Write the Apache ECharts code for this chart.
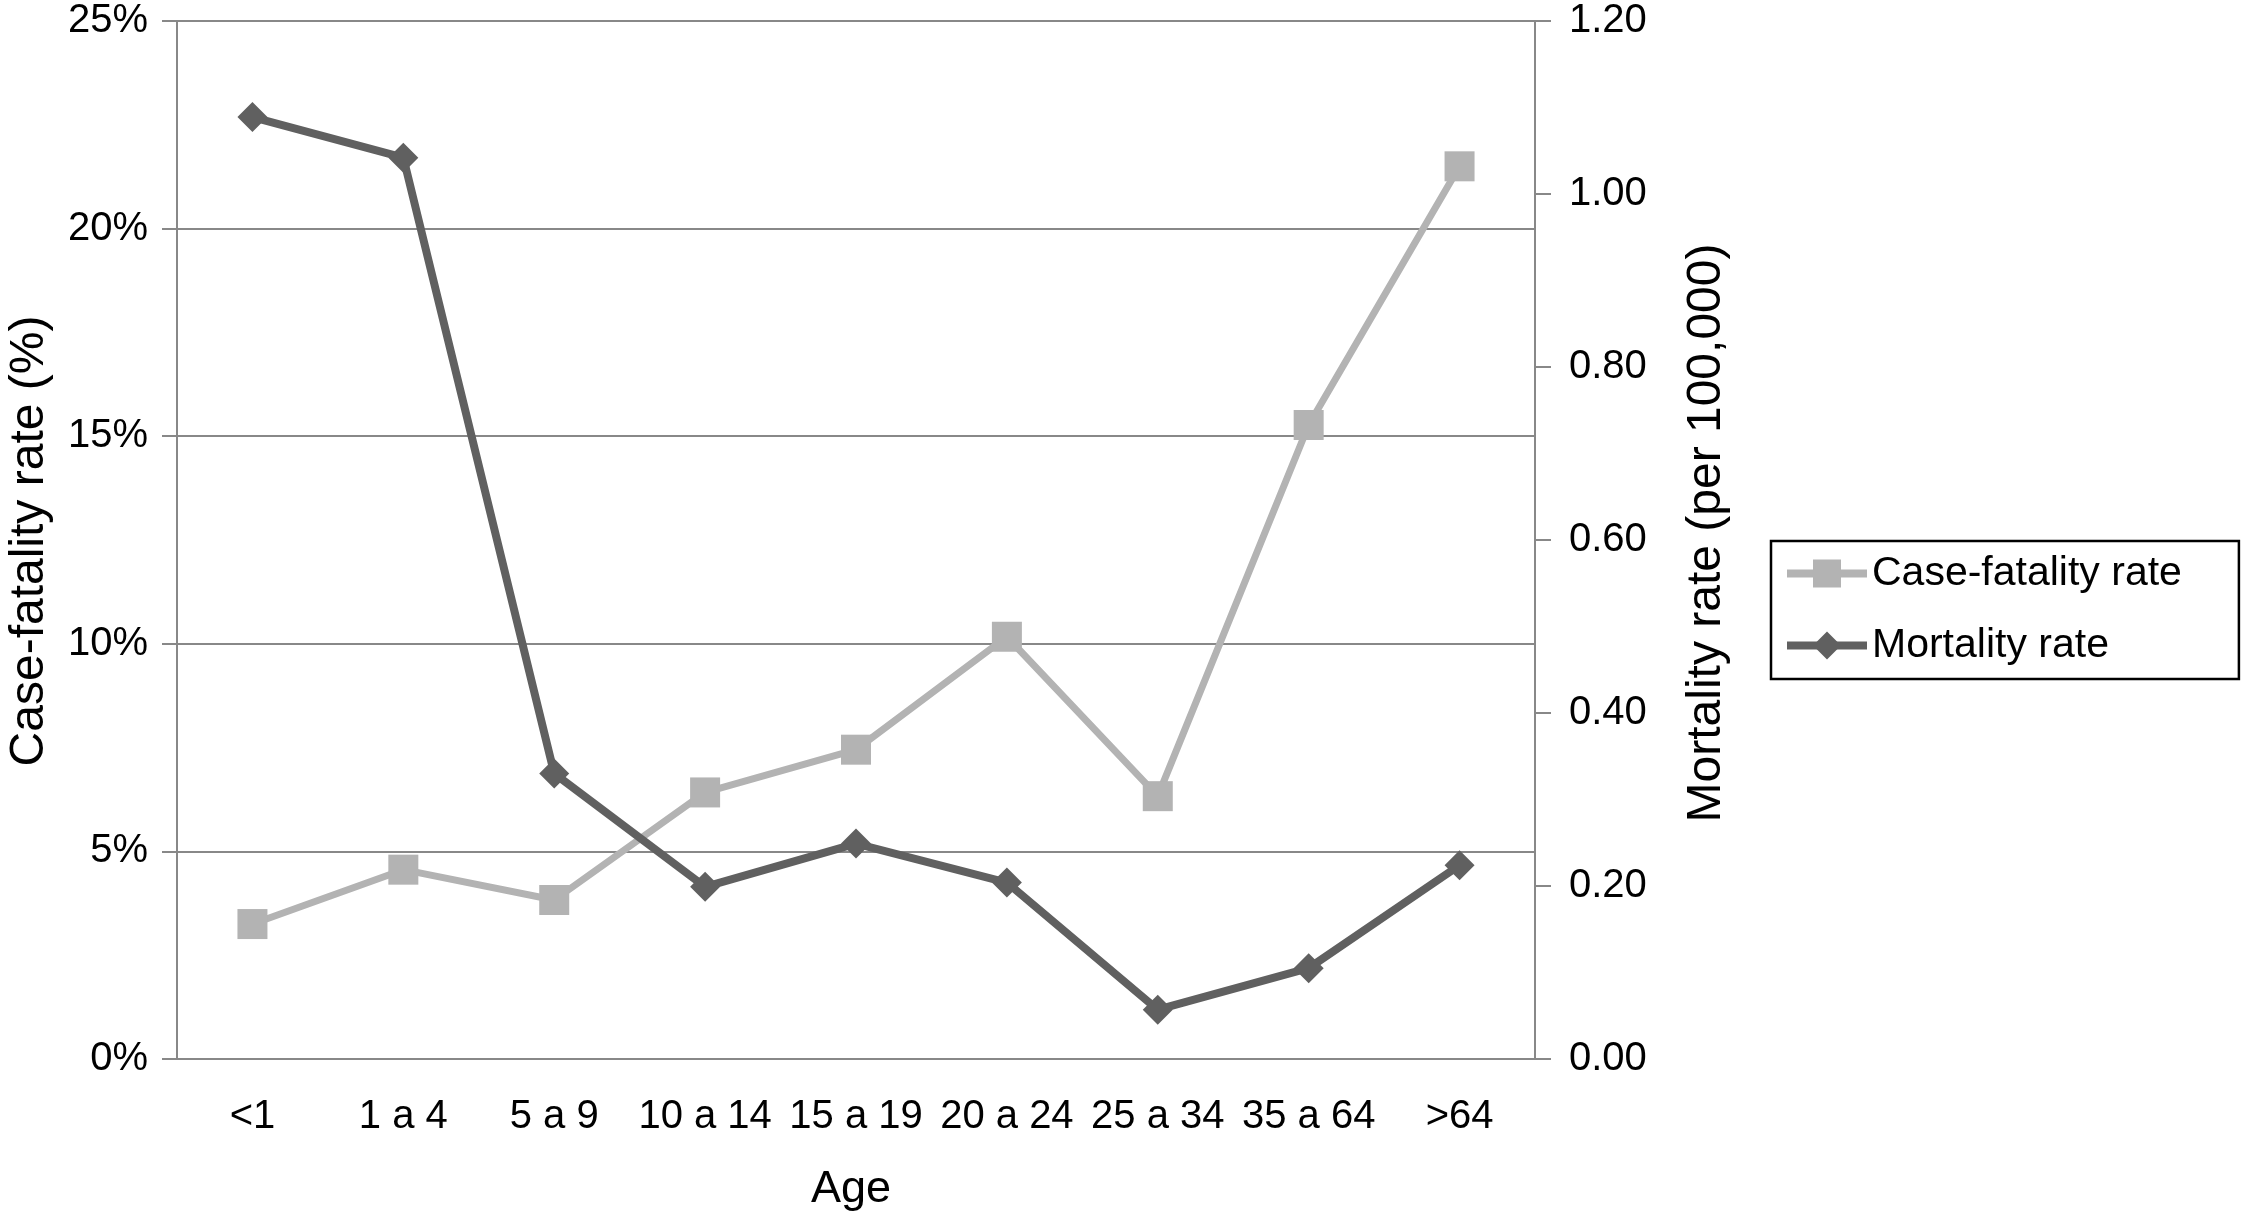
<!DOCTYPE html>
<html>
<head>
<meta charset="utf-8">
<script src="https://cdn.jsdelivr.net/npm/echarts@6/dist/echarts.min.js"></script>
<style>
html,body{margin:0;padding:0;background:#fff;}
#chart{width:2243px;height:1219px;}
</style>
</head>
<body>
<div id="chart"></div>
<script>
const categories = ['<1', '1 a 4', '5 a 9', '10 a 14', '15 a 19', '20 a 24', '25 a 34', '35 a 64', '>64'];
const caseFatality = [3.25, 4.56, 3.83, 6.42, 7.45, 10.17, 6.33, 15.27, 21.5];
const mortality = [1.089, 1.042, 0.330, 0.199, 0.249, 0.204, 0.057, 0.105, 0.224];
const leftTicks = [0, 5, 10, 15, 20, 25];
const rightTicks = [0, 0.2, 0.4, 0.6, 0.8, 1.0, 1.2];

const FONT = '"Liberation Sans", Arial, Helvetica, sans-serif';
const chart = echarts.init(document.getElementById('chart'), null, {renderer: 'canvas'});
chart.setOption({
  backgroundColor: '#ffffff',
  animation: false,
  textStyle: {fontFamily: FONT, color: '#000'},
  grid: {left: 177, right: 708, top: 21, bottom: 160, containLabel: false},
  legend: {
    left: 1771, top: 541,
    orient: 'vertical',
    padding: [12, 57, 13, 12],
    borderColor: '#000', borderWidth: 2.5,
    itemWidth: 80, itemHeight: 35, itemGap: 31,
    lineStyle: {width: 8},
    textStyle: {fontSize: 41, fontFamily: FONT, color: '#000', lineHeight: 41},
    data: ['Case-fatality rate', 'Mortality rate']
  },
  xAxis: {
    type: 'category',
    data: categories,
    boundaryGap: true,
    axisLine: {show: true, lineStyle: {color: '#888', width: 2}},
    axisTick: {show: false},
    axisLabel: {fontSize: 40, color: '#000', margin: 38, fontFamily: FONT, interval: 0},
    splitLine: {show: false}
  },
  yAxis: [
    {
      type: 'value', min: leftTicks[0], max: leftTicks[leftTicks.length - 1], interval: 5,
      position: 'left',
      axisLine: {show: true, lineStyle: {color: '#888', width: 2}},
      axisTick: {show: true, length: 15, lineStyle: {color: '#888', width: 2}},
      axisLabel: {fontSize: 40, color: '#000', margin: 29, fontFamily: FONT, padding: [6, 0, 0, 0], formatter: v => v + '%'},
      splitLine: {show: true, lineStyle: {color: '#888', width: 2}}
    },
    {
      type: 'value', min: rightTicks[0], max: rightTicks[rightTicks.length - 1], interval: 0.2,
      position: 'right',
      axisLine: {show: true, lineStyle: {color: '#888', width: 2}},
      axisTick: {show: true, length: 16, lineStyle: {color: '#888', width: 2}},
      axisLabel: {fontSize: 40, color: '#000', margin: 34, fontFamily: FONT, formatter: v => v.toFixed(2)},
      splitLine: {show: false}
    }
  ],
  graphic: [
    {type: 'text', x: 30, y: 541, rotation: Math.PI / 2,
     style: {text: 'Case-fatality rate (%)', fontSize: 48, fontFamily: FONT, fill: '#000', align: 'center', verticalAlign: 'middle'}},
    {type: 'text', x: 1707, y: 533, rotation: Math.PI / 2,
     style: {text: 'Mortality rate (per 100,000)', fontSize: 48, fontFamily: FONT, fill: '#000', align: 'center', verticalAlign: 'middle'}},
    {type: 'text', x: 851, y: 1190,
     style: {text: 'Age', fontSize: 45, fontFamily: FONT, fill: '#000', align: 'center', verticalAlign: 'middle'}}
  ],
  series: [
    {
      name: 'Case-fatality rate', type: 'line', yAxisIndex: 0,
      data: caseFatality,
      symbol: 'rect', symbolSize: 30,
      itemStyle: {color: '#b3b3b3'},
      lineStyle: {color: '#b3b3b3', width: 7},
      z: 2
    },
    {
      name: 'Mortality rate', type: 'line', yAxisIndex: 1,
      data: mortality,
      symbol: 'diamond', symbolSize: 30,
      itemStyle: {color: '#606060'},
      lineStyle: {color: '#606060', width: 8},
      z: 3
    }
  ]
});
</script>
</body>
</html>
